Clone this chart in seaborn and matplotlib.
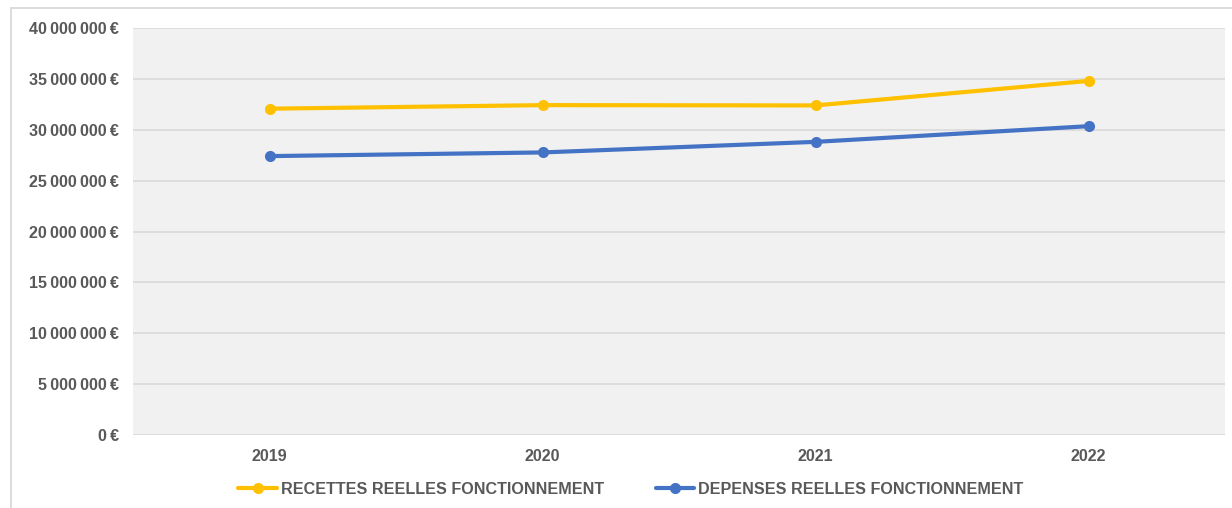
import matplotlib
matplotlib.use("Agg")
import matplotlib.pyplot as plt
import matplotlib.ticker as mticker
from matplotlib.patches import Rectangle
import seaborn as sns
import pandas as pd

years = ["2019", "2020", "2021", "2022"]
recettes = [32_070_000, 32_420_000, 32_390_000, 34_800_000]
depenses = [27_410_000, 27_770_000, 28_810_000, 30_350_000]
series_names = ["RECETTES REELLES FONCTIONNEMENT", "DEPENSES REELLES FONCTIONNEMENT"]
y_ticks = [0, 5_000_000, 10_000_000, 15_000_000, 20_000_000,
           25_000_000, 30_000_000, 35_000_000, 40_000_000]

df = pd.DataFrame({
    "Année": years * 2,
    "Montant": recettes + depenses,
    "Série": [series_names[0]] * len(years) + [series_names[1]] * len(years),
})

sns.set_theme(style="white")
plt.rcParams["font.family"] = ["Liberation Sans", "DejaVu Sans"]
text_color = "#595959"
fsize = 11.6

fig = plt.figure(figsize=(12.32, 5.08), dpi=100)
ax = fig.add_axes([133 / 1232, 1 - 435 / 508, 1092 / 1232, 407 / 508])
ax.set_facecolor("#f1f1f1")

palette = {series_names[0]: "#FFC000", series_names[1]: "#4472C4"}
sns.lineplot(data=df, x="Année", y="Montant", hue="Série", palette=palette,
             marker="o", markersize=8, markeredgewidth=0, linewidth=3,
             ax=ax, legend=True)

ax.set_xlim(-0.5, len(years) - 0.5)
ax.set_ylim(0, 40_000_000)
ax.set_yticks(y_ticks)
ax.yaxis.set_major_formatter(mticker.FuncFormatter(
    lambda v, _: f"{int(v):,}".replace(",", "\u2009") + "\u2009€"))
ax.grid(axis="y", color="#d9d9d9", linewidth=1.2)
ax.grid(axis="x", visible=False)
ax.set_axisbelow(True)
for s in ax.spines.values():
    s.set_visible(False)
ax.tick_params(axis="both", length=0, labelsize=fsize, labelcolor=text_color)
ax.tick_params(axis="y", pad=10)
ax.tick_params(axis="x", pad=10)
for lab in ax.get_xticklabels() + ax.get_yticklabels():
    lab.set_fontweight("bold")
ax.set_xlabel("")
ax.set_ylabel("")

handles, labels = ax.get_legend_handles_labels()
ax.get_legend().remove()
leg = fig.legend(handles, labels, loc="center",
                 bbox_to_anchor=(631 / 1232, 1 - 489 / 508),
                 ncol=2, frameon=False, handlelength=2.4, handletextpad=0.25,
                 columnspacing=3.2, prop={"size": fsize, "weight": "bold"})
for t in leg.get_texts():
    t.set_color(text_color)

# chart frame
fig.patches.append(Rectangle((10.5 / 1232, -0.1), 1.2, 1.1 - 8.5 / 508,
                             transform=fig.transFigure, fill=False,
                             edgecolor="#d9d9d9", linewidth=1.3))

fig.savefig("out.png", dpi=100, facecolor="white")
